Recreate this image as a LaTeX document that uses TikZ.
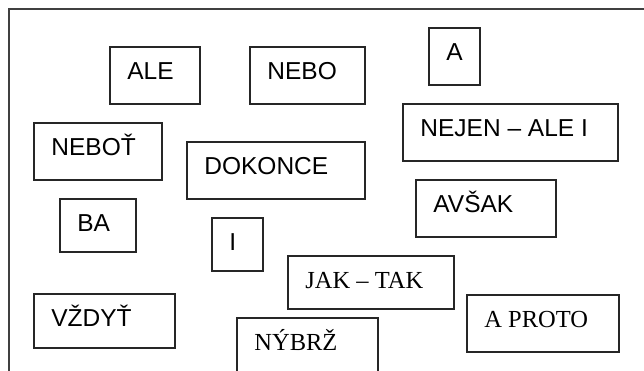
\documentclass[tikz,border=0pt]{standalone}
\usepackage{fontspec}
\setmainfont{Liberation Sans}
\newfontfamily\wordserif{Liberation Serif}
\begin{document}
\begin{tikzpicture}[x=1pt,y=-1pt,
	wbox/.style 2 args={draw=black!85,line width=1.6pt,minimum width=#1,
	minimum height=#2,inner sep=0pt},
	word/.style={anchor=base west,xshift=18pt,yshift=-33pt,inner sep=0pt,
	font=\fontsize{24.5}{29}\selectfont},
	serifword/.style={word,font=\wordserif\fontsize{24.5}{29}\selectfont}]
\clip (0,0) rectangle (644,371);
% outer frame, cut by the page
\draw[black!75,line width=2pt] (9,9.5) rectangle (680,400);
% sans words
\node[wbox={90pt}{57pt},label={[word]north west:ALE}] (ale) at (155,75.5) {};
\node[wbox={115pt}{57pt},label={[word]north west:NEBO}] (nebo) at (307.5,75.5) {};
\node[wbox={51pt}{57pt},label={[word]north west:A}] (a) at (454.5,56.5) {};
\node[wbox={215pt}{57pt},label={[word]north west:NEJEN – ALE I}] (nejen) at (510.5,132.5) {};
\node[wbox={128pt}{57pt},label={[word]north west:NEBOŤ}] (nebot) at (98,151.5) {};
\node[wbox={178pt}{57pt},label={[word]north west:DOKONCE}] (dokonce) at (276,170.5) {};
\node[wbox={140pt}{57pt},label={[word]north west:AVŠAK}] (avsak) at (486,208.5) {};
\node[wbox={76pt}{53pt},label={[word]north west:BA}] (ba) at (98,225.5) {};
\node[wbox={51pt}{53pt},label={[word]north west:I}] (i) at (237.5,244.5) {};
\node[wbox={141pt}{54pt},label={[word]north west:VŽDYŤ}] (vzdyt) at (104.5,321) {};
% serif words
\node[wbox={166pt}{53pt},label={[serifword]north west:JAK – TAK}] (jaktak) at (371,282.5) {};
\node[wbox={152pt}{57pt},label={[serifword]north west:A PROTO}] (aproto) at (543,323.5) {};
\node[wbox={141pt}{57pt},label={[serifword]north west:NÝBRŽ}] (nybrz) at (307.5,346.5) {};
\end{tikzpicture}
\end{document}
